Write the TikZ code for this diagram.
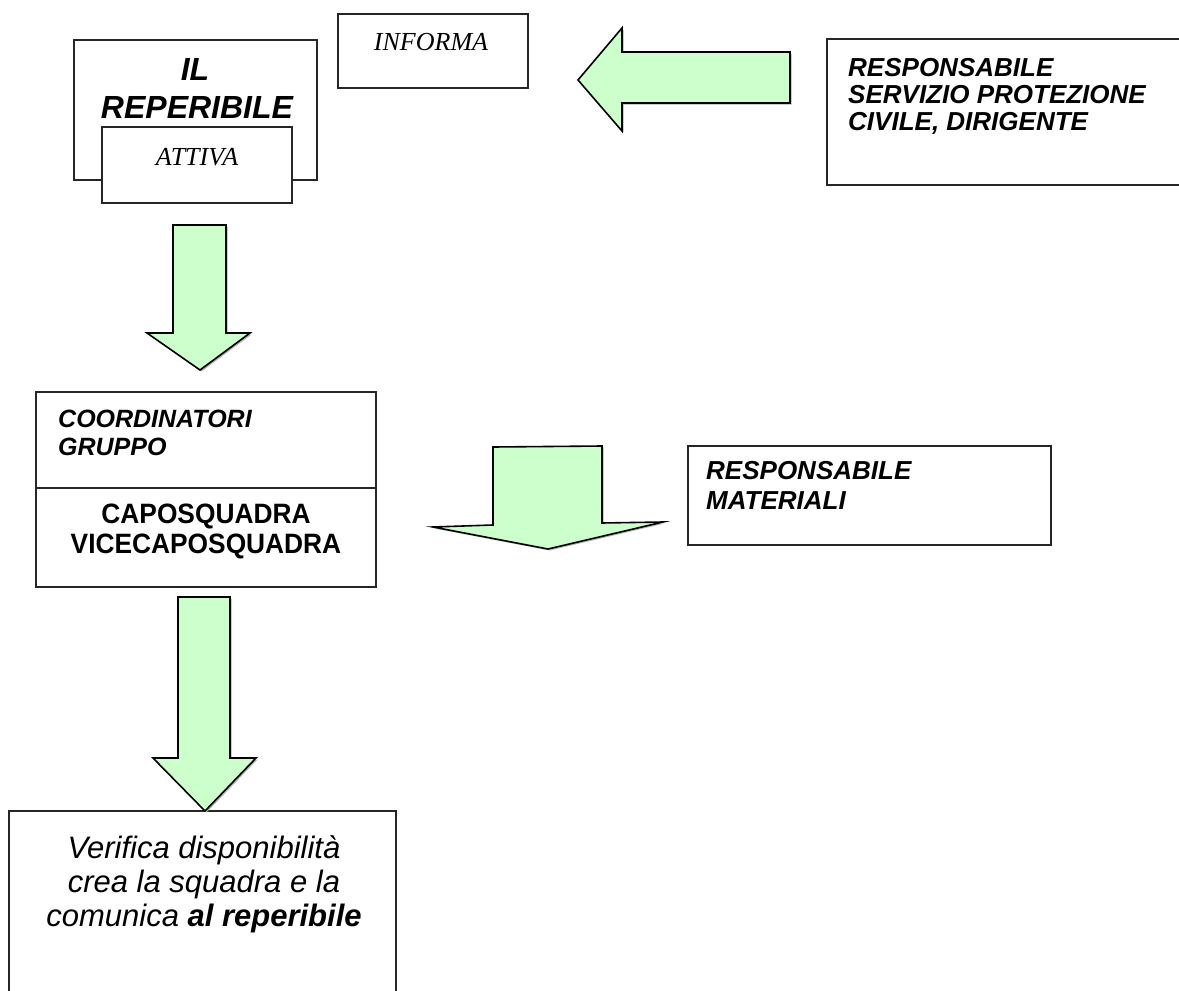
\documentclass[tikz,border=0pt]{standalone}
\usepackage{fontspec}
\setmainfont{Liberation Sans}
\newfontfamily\tnr{Liberation Serif}
\newfontfamily\narrowsans[FakeStretch=0.94]{Liberation Sans}
\definecolor{arrowgreen}{HTML}{CCFFCC}
\begin{document}
\begin{tikzpicture}[x=1pt,y=-1pt]
\tikzset{
  box/.style={draw=black!85, line width=1.2pt, fill=white, rectangle, inner sep=0pt},
  blk/.style={draw=black, line width=1.6pt, fill=arrowgreen, line join=miter},
  shd/.style={fill=black!30, draw=none},
  bi/.style={inner sep=0pt, font=\fontsize{25}{30}\selectfont\bfseries\itshape},
  bir/.style={inner sep=0pt, font=\fontsize{26}{30}\selectfont\bfseries\itshape},
  bu/.style={inner sep=0pt, font=\fontsize{28}{30}\selectfont\narrowsans\bfseries},
  big/.style={inner sep=0pt, font=\fontsize{32}{37}\selectfont\bfseries\itshape},
  tim/.style={inner sep=0pt, font=\fontsize{26}{30}\selectfont\tnr\itshape},
  it/.style={inner sep=0pt, font=\fontsize{31}{35}\selectfont\itshape},
}
\useasboundingbox (0,0) rectangle (1179,991);
\clip (0,0) rectangle (1179,991);
\fill[white] (0,0) rectangle (1179,991);

% boxes
\node[box, minimum width=243pt, minimum height=140pt] (rep) at (195.5,110) {};
\node[box, minimum width=190pt, minimum height=76pt] (attiva) at (197,165) {};
\node[box, minimum width=190pt, minimum height=74pt] (informa) at (433,51) {};
\node[box, minimum width=358pt, minimum height=146pt] (resp) at (1006,112) {};
\node[box, minimum width=340pt, minimum height=96pt] (coordtop) at (206,440) {};
\node[box, minimum width=340pt, minimum height=99pt] (coordbot) at (206,537.5) {};
\node[box, minimum width=363pt, minimum height=99pt] (mat) at (869.5,495.5) {};
\node[box, minimum width=387pt, minimum height=189pt] (verif) at (202.5,905.5) {};

% texts
\node[big, anchor=base] (t1) at (195,80) {IL};
\node[big, anchor=base] (t2) at (197,118) {REPERIBILE};
\node[tim, anchor=base] (t3) at (197,165) {ATTIVA};
\node[tim, anchor=base] (t4) at (431,50) {INFORMA};
\node[bir, anchor=base west] (t5) at (848,76) {RESPONSABILE};
\node[bir, anchor=base west] (t6) at (848,103) {SERVIZIO PROTEZIONE};
\node[bir, anchor=base west] (t7) at (848,130) {CIVILE, DIRIGENTE};
\node[bi, anchor=base west] (t8) at (58,427) {COORDINATORI};
\node[bi, anchor=base west] (t9) at (58,455) {GRUPPO};
\node[bu, anchor=base] (t10) at (206,523) {CAPOSQUADRA};
\node[bu, anchor=base] (t11) at (206,553) {VICECAPOSQUADRA};
\node[bir, anchor=base west] (t12) at (706,479) {RESPONSABILE};
\node[bir, anchor=base west] (t13) at (706,509) {MATERIALI};
\node[it, anchor=base] (t14) at (204,858) {Verifica disponibilità};
\node[it, anchor=base] (t15) at (204,892) {crea la squadra e la};
\node[it, anchor=base] (t16) at (204,926) {comunica \textbf{al reperibile}};

% block arrows
\begin{scope}[shift={(1.5,1.5)}]
\fill[shd] (173,225) -- (226,225) -- (226,333) -- (250,333) -- (200,370) -- (147,333) -- (173,333) -- cycle;
\fill[shd] (790,52) -- (790,103) -- (622,103) -- (622,131) -- (578,80) -- (622,28) -- (622,52) -- cycle;
\fill[shd] (493,447) -- (602,446) -- (602,523) -- (663,522) -- (548,549) -- (433,527) -- (493,525) -- cycle;
\fill[shd] (178,597) -- (230,597) -- (230,758) -- (256,758) -- (205,811) -- (153,758) -- (178,758) -- cycle;
\end{scope}
\draw[blk] (173,225) -- (226,225) -- (226,333) -- (250,333) -- (200,370) -- (147,333) -- (173,333) -- cycle;
\draw[blk] (790,52) -- (790,103) -- (622,103) -- (622,131) -- (578,80) -- (622,28) -- (622,52) -- cycle;
\draw[blk] (493,447) -- (602,446) -- (602,523) -- (663,522) -- (548,549) -- (433,527) -- (493,525) -- cycle;
\draw[blk] (178,597) -- (230,597) -- (230,758) -- (256,758) -- (205,811) -- (153,758) -- (178,758) -- cycle;
\end{tikzpicture}
\end{document}
